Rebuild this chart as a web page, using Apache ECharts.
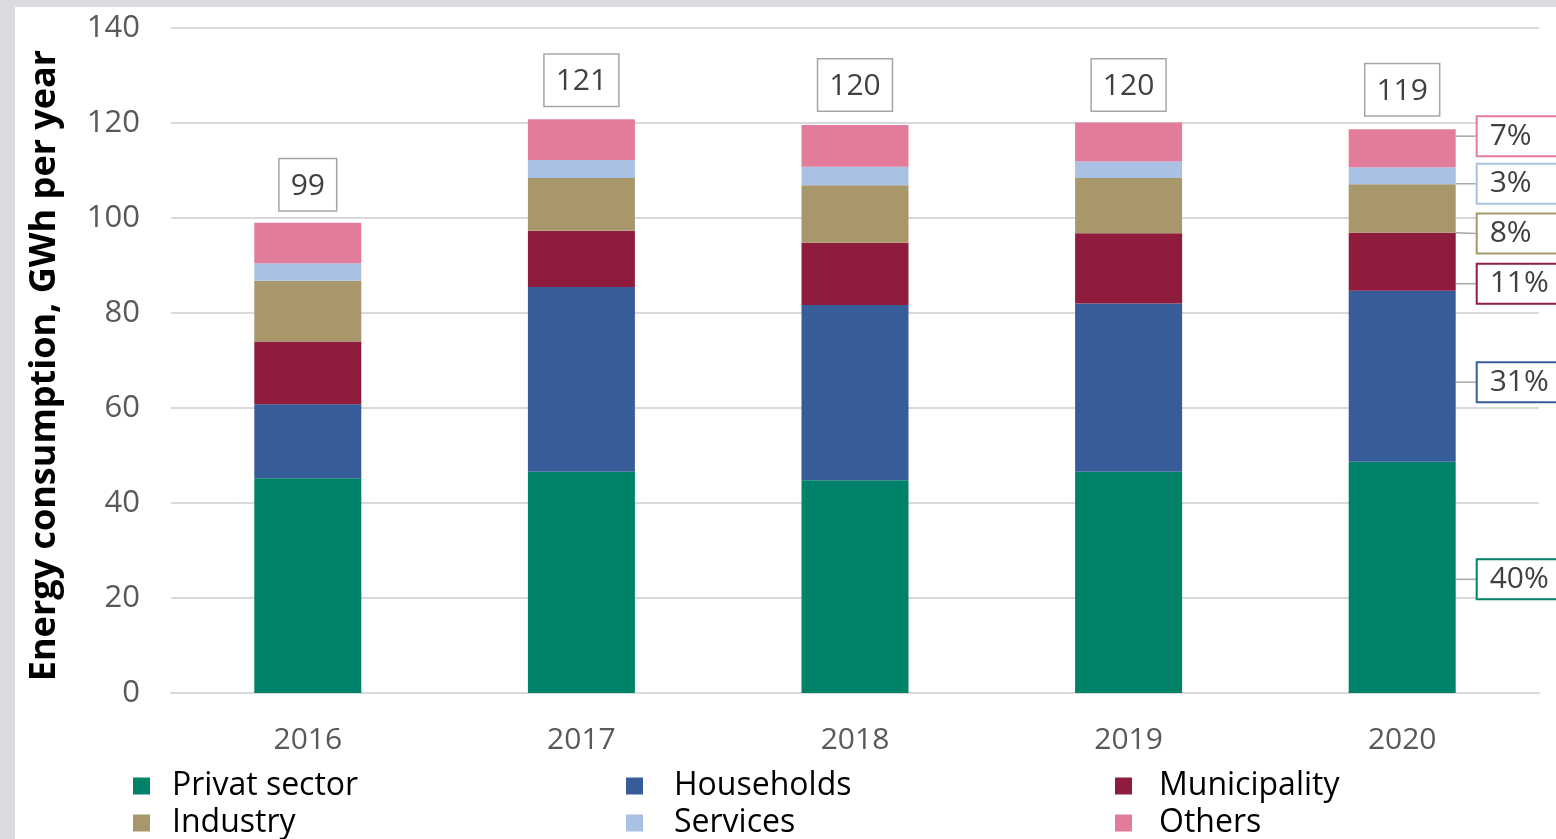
<!DOCTYPE html>
<html>
<head>
<meta charset="utf-8">
<script src="https://cdn.jsdelivr.net/npm/echarts@6/dist/echarts.min.js"></script>
<style>
  html, body { margin: 0; padding: 0; background: #dadbde; }
  #panel { position: absolute; left: 15px; top: 7px; width: 1541px; height: 832px; background: #ffffff; }
  #chart { position: absolute; left: 0; top: 0; width: 1556px; height: 839px; }
</style>
</head>
<body>
<div id="panel"></div>
<div id="chart"></div>
<script>
const categories = ['2016', '2017', '2018', '2019', '2020'];
const privatSector = [45.2, 46.6, 44.8, 46.6, 48.7];
const households = [15.6, 38.9, 36.9, 35.4, 36.0];
const municipality = [13.2, 11.8, 13.1, 14.8, 12.2];
const industry = [12.8, 11.1, 12.1, 11.6, 10.2];
const services = [3.7, 3.8, 3.9, 3.5, 3.6];
const others = [8.5, 8.6, 8.8, 8.2, 8.0];
const seriesNames = ['Privat sector', 'Households', 'Municipality', 'Industry', 'Services', 'Others'];
const shares2020 = ['40%', '31%', '11%', '8%', '3%', '7%'];

const seriesValues = [privatSector, households, municipality, industry, services, others];
const colors = ['#008268', '#365c9a', '#8f1c3c', '#a8976b', '#a9c1e3', '#e37b9a'];
const labelShift = [2, 6, 22, 25, 8, -12];
const totals = categories.map((c, i) => seriesValues.reduce((s, arr) => s + arr[i], 0));

const FONT = "'Open Sans', 'Noto Sans', sans-serif";
const lastIdx = categories.length - 1;

const barSeries = seriesNames.map((name, si) => ({
  name: name,
  type: 'bar',
  stack: 'total',
  barWidth: 107,
  itemStyle: { color: colors[si] },
  label: { show: false },
  data: seriesValues[si].map((v, i) => i === lastIdx ? {
    value: v,
    label: {
      show: true,
      position: 'right',
      distance: 22,
      formatter: shares2020[si],
      fontFamily: FONT,
      fontSize: 30,
      color: '#404040',
      backgroundColor: '#ffffff',
      borderColor: colors[si],
      borderWidth: 2,
      padding: [5, 30, 3, 12]
    }
  } : v),
  labelLine: { show: true, lineStyle: { color: '#a6a6a6', width: 1.5 } },
  labelLayout: function (params) {
    return { dy: labelShift[si] };
  }
}));

const totalSeries = {
  name: 'Total',
  type: 'line',
  data: totals.map(t => Math.round(t)),
  symbol: 'circle',
  symbolSize: 1,
  itemStyle: { color: 'rgba(0,0,0,0)' },
  lineStyle: { opacity: 0 },
  silent: true,
  z: 10,
  label: {
    show: true,
    position: 'top',
    distance: 12,
    fontFamily: FONT,
    fontSize: 30,
    color: '#404040',
    backgroundColor: '#ffffff',
    borderColor: '#a6a6a6',
    borderWidth: 1.5,
    padding: [12, 11, 9, 11]
  }
};

const legendPos = [
  { left: 133, top: 770, gap: 17 }, { left: 626, top: 770, gap: 26 }, { left: 1115, top: 770, gap: 22 },
  { left: 133, top: 807, gap: 17 }, { left: 626, top: 807, gap: 26 }, { left: 1115, top: 807, gap: 22 }
];

const chart = echarts.init(document.getElementById('chart'), null, { renderer: 'canvas' });
chart.setOption({
  backgroundColor: 'transparent',
  animation: false,
  grid: { left: 171, right: 17, top: 28, bottom: 146 },
  legend: seriesNames.map((n, i) => ({
    data: [n],
    left: legendPos[i].left,
    top: legendPos[i].top,
    padding: 0,
    icon: 'rect',
    itemWidth: 17,
    itemHeight: 17,
    selectedMode: false,
    textStyle: { fontFamily: FONT, fontSize: 32, color: '#000000', padding: [0, 0, 0, legendPos[i].gap] }
  })),
  xAxis: {
    type: 'category',
    data: categories,
    axisLine: { lineStyle: { color: '#d9d9d9', width: 2 } },
    axisTick: { show: false },
    axisLabel: { fontFamily: FONT, fontSize: 30, color: '#595959', margin: 32 }
  },
  yAxis: {
    type: 'value',
    min: 0,
    max: 140,
    interval: 20,
    name: 'Energy consumption, GWh per year',
    nameLocation: 'middle',
    nameRotate: 90,
    nameGap: 108,
    nameTextStyle: { fontFamily: FONT, fontSize: 36, fontWeight: 'bold', color: '#000000', padding: [0, 10, 0, 0] },
    axisLine: { show: false },
    axisTick: { show: false },
    axisLabel: { fontFamily: FONT, fontSize: 31, color: '#595959', margin: 31 },
    splitLine: { lineStyle: { color: '#d9d9d9', width: 2 } }
  },
  series: barSeries.concat([totalSeries])
});
</script>
</body>
</html>
